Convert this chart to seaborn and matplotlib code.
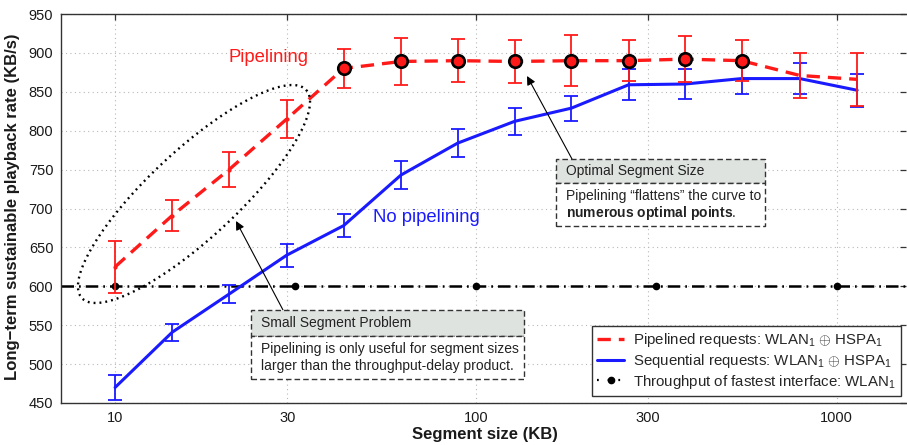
import numpy as np
import pandas as pd
import matplotlib
matplotlib.use("Agg")
import matplotlib.pyplot as plt
import seaborn as sns
from matplotlib.lines import Line2D
from matplotlib.patches import Rectangle
from matplotlib.ticker import FixedLocator, NullLocator

# ---------------- data ----------------
seg_kb = [10, 14.4, 20.7, 29.9, 43, 62, 89, 128, 184, 265, 380, 545, 790, 1140]
pipe_rate = [625, 691, 750, 815, 880, 889, 890, 889, 890, 890, 892, 890, 871, 866]
pipe_err = [33, 20, 22, 24, 25.5, 30, 28, 28, 33, 26.5, 30, 26, 28.5, 34]
seq_rate = [470, 541, 590, 640, 678, 743, 784, 812, 829, 859, 860, 867, 867, 852]
seq_err = [16, 11, 12, 15, 15, 18.5, 18, 17.5, 16, 20, 19, 20, 20, 21]
optimal_idx = [4, 5, 6, 7, 8, 9, 10, 11]
wlan_rate = 600
wlan_dot_x = [10, 31.6, 100, 316, 1000]
x_ticks = [10, 30, 100, 300, 1000]
x_tick_labels = ["10", "30", "100", "300", "1000"]
y_ticks = list(range(450, 951, 50))

sns.set_theme(style="white")
plt.rcParams["font.family"] = ["Liberation Sans", "DejaVu Sans"]
plt.rcParams["mathtext.fontset"] = "custom"
plt.rcParams["mathtext.rm"] = "Liberation Sans"
plt.rcParams["mathtext.bf"] = "Liberation Sans:bold"
plt.rcParams["mathtext.it"] = "Liberation Sans:italic"

W, H = 907, 445
fig = plt.figure(figsize=(W / 100, H / 100), dpi=100)
AX_L, AX_R, AX_T, AX_B = 61, 906, 14, 403
ax = fig.add_axes([AX_L / W, 1 - AX_B / H, (AX_R - AX_L) / W, (AX_B - AX_T) / H])

def fx(px):
    return px / W

def fy(py):
    return 1 - py / H

df = pd.DataFrame({"seg": seg_kb, "pipe": pipe_rate, "seq": seq_rate})

RED = "#ff1a1a"
BLUE = "#1a1aff"

# WLAN reference line
ax.axhline(wlan_rate, color="black", lw=1.8, linestyle=(0, (5, 2, 0.7, 2)), zorder=2)
ax.plot(wlan_dot_x, [wlan_rate] * len(wlan_dot_x), "o", color="black", ms=4.5, zorder=3)

# Sequential (blue)
ax.errorbar(seg_kb, seq_rate, yerr=seq_err, fmt="none", ecolor=BLUE, elinewidth=1.3,
            capsize=5, capthick=1.3, zorder=3)
sns.lineplot(data=df, x="seg", y="seq", color=BLUE, lw=2.2, ax=ax, zorder=4)

# Pipelined (red)
ax.errorbar(seg_kb, pipe_rate, yerr=pipe_err, fmt="none", ecolor=RED, elinewidth=1.3,
            capsize=5, capthick=1.3, zorder=5)
sns.lineplot(data=df, x="seg", y="pipe", color=RED, lw=2.4, linestyle=(0, (4, 2.4)),
             ax=ax, zorder=6)
ax.plot(seg_kb[:4], pipe_rate[:4], ".", color=RED, ms=4, zorder=6)
ax.plot([seg_kb[i] for i in optimal_idx], [pipe_rate[i] for i in optimal_idx], "o",
        mfc=RED, mec="black", ms=9, mew=1.9, zorder=7)

ax.set_xscale("log")
ax.set_xlim(7.08, 1557)
ax.set_ylim(450, 950)
ax.xaxis.set_major_locator(FixedLocator(x_ticks))
ax.xaxis.set_minor_locator(NullLocator())
ax.set_xticklabels(x_tick_labels)
ax.set_yticks(y_ticks)
ax.tick_params(axis="both", which="major", direction="in", length=4, width=0.9,
               colors="#333333", labelcolor="#1a1a1a", labelsize=10.5,
               top=True, right=True)
ax.tick_params(axis="x", pad=6)
ax.tick_params(axis="y", pad=5.5)
ax.grid(True, which="major", color="#b8b8b8", lw=0.8, linestyle=(0, (1, 3)))
for side in ["left", "bottom", "top"]:
    ax.spines[side].set_color("#333333")
    ax.spines[side].set_linewidth(1.0)
ax.spines["right"].set_visible(False)

ax.set_xlabel("")
ax.set_ylabel("")
fig.text(fx(485), fy(435), "Segment size (KB)", fontsize=12, fontweight="bold",
         ha="center", va="center", color="#1a1a1a")
fig.text(fx(13), fy(207), "Long\u2212term sustainable playback rate (KB/s)", fontsize=12,
         fontweight="bold", ha="center", va="center", rotation=90, color="#1a1a1a")

# Curve labels
fig.text(fx(228), fy(57), "Pipelining", color=RED, fontsize=13.3, ha="left", va="center")
fig.text(fx(373), fy(218), "No pipelining", color=BLUE, fontsize=13.3, ha="left", va="center")

# Dotted ellipse
cx, cy, a, b = 194, 194, 153, 44
ux, uy = 224, -208
n = np.hypot(ux, uy)
ux, uy = ux / n, uy / n
vx, vy = -uy, ux
t = np.linspace(0, 2 * np.pi, 300)
px = cx + a * np.cos(t) * ux + b * np.sin(t) * vx
py = cy + a * np.cos(t) * uy + b * np.sin(t) * vy
ax.plot((px - AX_L) / (AX_R - AX_L), (AX_B - py) / (AX_B - AX_T), transform=ax.transAxes,
        color="black", lw=1.7, linestyle=(0, (0.8, 1.7)), zorder=8, clip_on=False)

# Arrows
arrow_kw = dict(arrowstyle="-|>", lw=0.8, color="black", mutation_scale=13, shrinkA=0, shrinkB=0)
ax.annotate("", xy=(fx(236), fy(221)), xycoords="figure fraction",
            xytext=(fx(283), fy(310)), textcoords="figure fraction", arrowprops=arrow_kw, zorder=9)
ax.annotate("", xy=(fx(527), fy(76)), xycoords="figure fraction",
            xytext=(fx(572), fy(159)), textcoords="figure fraction", arrowprops=arrow_kw, zorder=9)

# Boxes
def draw_box(x0, x1, ytop, ydiv, ybot, title, lines):
    box_kw = dict(transform=fig.transFigure, lw=1.0, ls=(0, (4, 2.2)), ec="#333333", zorder=10)
    fig.add_artist(Rectangle((fx(x0), fy(ydiv)), fx(x1) - fx(x0), fy(ytop) - fy(ydiv),
                             fc="#dfe3e0", **box_kw))
    fig.add_artist(Rectangle((fx(x0), fy(ybot)), fx(x1) - fx(x0), fy(ydiv) - fy(ybot),
                             fc="white", **box_kw))
    fig.text(fx(x0 + 10), fy((ytop + ydiv) / 2 + 0.5), title, fontsize=10, ha="left",
             va="center", color="#222222", zorder=11)
    step = (ybot - ydiv) / (len(lines) + 0.6)
    for i, ln in enumerate(lines):
        fig.text(fx(x0 + 10), fy(ydiv + step * (i + 0.8)), ln, fontsize=10, ha="left",
                 va="center", color="#222222", zorder=11)

draw_box(251, 524, 310, 335.5, 379, "Small Segment Problem",
         ["Pipelining is only useful for segment sizes",
          "larger than the throughput-delay product."])
draw_box(556, 765, 159, 182.7, 226, "Optimal Segment Size",
         ["Pipelining \u201cflattens\u201d the curve to",
          r"$\mathbf{numerous\ optimal\ points}$."])

# Legend
handles = [
    Line2D([], [], color=RED, lw=2.4, linestyle=(0, (4, 2.4))),
    Line2D([], [], color=BLUE, lw=2.2),
    Line2D([], [], color="black", lw=1.6, linestyle=(0, (0.8, 4)), marker="o", ms=4.5),
]
labels = [
    r"Pipelined requests: WLAN$_1$ $\oplus$ HSPA$_1$",
    r"Sequential requests: WLAN$_1$ $\oplus$ HSPA$_1$",
    r"Throughput of fastest interface: WLAN$_1$",
]
leg = ax.legend(handles, labels, loc="lower right", bbox_to_anchor=(0.994, 0.018),
                fontsize=10.8, frameon=True, fancybox=False, framealpha=1,
                edgecolor="#333333", handlelength=1.8, handletextpad=0.6,
                labelspacing=0.18, borderpad=0.35, borderaxespad=0)
leg.get_frame().set_linewidth(1.0)
leg.set_zorder(12)

fig.savefig("out.png", dpi=100)
